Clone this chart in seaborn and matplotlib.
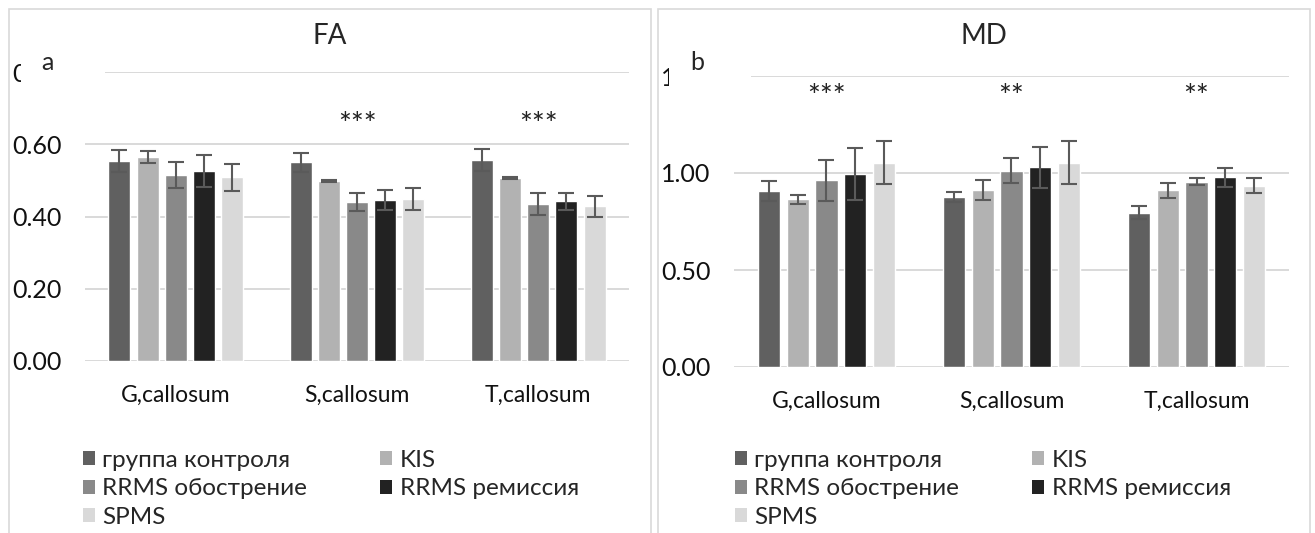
"""FA / MD bar chart of corpus callosum regions by patient group."""

import matplotlib

matplotlib.use("Agg")
import matplotlib.pyplot as plt
import numpy as np
import pandas as pd
import seaborn as sns
from matplotlib.patches import Patch, Rectangle

regions = ["G,callosum", "S,callosum", "T,callosum"]
groups = ["группа контроля", "KIS", "RRMS обострение", "RRMS ремиссия", "SPMS"]
colors = ["#606060", "#b2b2b2", "#898989", "#222222", "#d9d9d9"]

# values per group, one entry per region (G, S, T)
fa_mean = {
    "группа контроля": [0.554, 0.550, 0.557],
    "KIS": [0.565, 0.498, 0.506],
    "RRMS обострение": [0.515, 0.440, 0.435],
    "RRMS ремиссия": [0.526, 0.446, 0.442],
    "SPMS": [0.508, 0.448, 0.428],
}
fa_err = {
    "группа контроля": [0.030, 0.027, 0.031],
    "KIS": [0.017, 0.002, 0.002],
    "RRMS обострение": [0.035, 0.024, 0.030],
    "RRMS ремиссия": [0.045, 0.028, 0.023],
    "SPMS": [0.037, 0.031, 0.029],
}
md_mean = {
    "группа контроля": [0.906, 0.874, 0.795],
    "KIS": [0.864, 0.913, 0.910],
    "RRMS обострение": [0.963, 1.012, 0.956],
    "RRMS ремиссия": [0.994, 1.029, 0.979],
    "SPMS": [1.053, 1.053, 0.934],
}
md_err = {
    "группа контроля": [0.052, 0.026, 0.033],
    "KIS": [0.022, 0.050, 0.040],
    "RRMS обострение": [0.105, 0.065, 0.018],
    "RRMS ремиссия": [0.133, 0.104, 0.049],
    "SPMS": [0.110, 0.110, 0.038],
}
fa_stars = ["", "***", "***"]
md_stars = ["***", "**", "**"]
fa_ticks = [0.0, 0.2, 0.4, 0.6, 0.8]
md_ticks = [0.0, 0.5, 1.0, 1.5]

W, H = 1315, 533
FONT = ["Lato", "DejaVu Sans"]


def long_frame(means: dict) -> pd.DataFrame:
    rows = []
    for g in groups:
        for r, v in zip(regions, means[g]):
            rows.append({"region": r, "group": g, "value": v})
    return pd.DataFrame(rows)


def px_box(x0, y0, x1, y1):
    # pixel box (top-left origin) -> figure fraction rect
    return [x0 / W, 1 - y1 / H, (x1 - x0) / W, (y1 - y0) / H]


def draw_panel(ax, means, errs, stars, ticks, star_px):
    df = long_frame(means)
    sns.barplot(
        data=df, x="region", y="value", hue="group", hue_order=groups,
        palette=colors, width=0.775, gap=0.22, errorbar=None,
        legend=False, ax=ax, saturation=1,
    )
    for cont, g in zip(ax.containers, groups):
        xs = [p.get_x() + p.get_width() / 2 for p in cont]
        ys = [p.get_height() for p in cont]
        ax.errorbar(xs, ys, yerr=errs[g], fmt="none", ecolor="#5a5a5a",
                    elinewidth=1.5, capsize=5.5, capthick=1.5, zorder=3)
    # significance marks, placed by their pixel row
    for i, s in enumerate(stars):
        if s:
            ax.text(i, 1 - star_px, s, ha="center", va="center", fontsize=22,
                    family=FONT, color="#222222",
                    transform=ax.get_xaxis_transform())
    ax.set_xlim(-0.5, 2.5)
    ax.set_ylim(ticks[0], ticks[-1])
    ax.set_yticks(ticks)
    ax.set_yticklabels([f"{t:.2f}" for t in ticks])
    ax.grid(axis="y", color="#d9d9d9", linewidth=1.4)
    ax.grid(axis="x", visible=False)
    ax.set_axisbelow(True)
    for sp in ax.spines.values():
        sp.set_visible(False)
    ax.tick_params(axis="y", length=0, labelsize=18, colors="#111111", pad=17)
    ax.tick_params(axis="x", length=0, labelsize=16.5, colors="#111111", pad=17)
    for lab in ax.get_xticklabels() + ax.get_yticklabels():
        lab.set_family(FONT)
    ax.set_xlabel("")
    ax.set_ylabel("")


sns.set_theme(style="white")
plt.rcParams["font.family"] = FONT

fig = plt.figure(figsize=(W / 100, H / 100), dpi=100)
ax_fa = fig.add_axes(px_box(85, 72, 629, 361))
ax_md = fig.add_axes(px_box(734, 76, 1289, 367))

# star rows as fraction of the axes height from the top
draw_panel(ax_fa, fa_mean, fa_err, fa_stars, fa_ticks, (125 - 72) / (361 - 72))
draw_panel(ax_md, md_mean, md_err, md_stars, md_ticks, (97 - 76) / (367 - 76))

# panel frames
for x0, x1 in [(9, 651), (658, 1310)]:
    fig.add_artist(Rectangle((x0 / W, -0.05), (x1 - x0) / W, 1 - 9 / H + 0.05,
                             transform=fig.transFigure, fill=False,
                             edgecolor="#d9d9d9", linewidth=1.2))

# titles
fig.text(330 / W, 1 - 36 / H, "FA", ha="center", va="center", fontsize=20, family=FONT)
fig.text(984 / W, 1 - 36 / H, "MD", ha="center", va="center", fontsize=20, family=FONT)

# panel letters drawn over the top tick label
for (x0, y0, x1, y1), (tx, ty), letter in [
    ((21, 48, 105, 92), (47, 62), "a"),
    ((669, 48, 751, 95), (697, 62), "b"),
]:
    fig.add_artist(Rectangle((x0 / W, 1 - y1 / H), (x1 - x0) / W, (y1 - y0) / H,
                             transform=fig.transFigure, facecolor="white",
                             edgecolor="none", zorder=5))
    fig.text(tx / W, 1 - ty / H, letter, ha="center", va="center", fontsize=18,
             family=FONT, zorder=6)

# legends (row-major order like the original)
order = [0, 2, 4, 1, 3]
handles = [Patch(facecolor=colors[i], edgecolor="none") for i in order]
labels = [groups[i] for i in order]
for lx in [83, 735]:
    fig.legend(handles, labels, ncol=2, loc="upper left",
               bbox_to_anchor=(lx / W, 1 - 450 / H), frameon=False,
               borderpad=0, borderaxespad=0,
               handlelength=0.5, handleheight=0.5, handletextpad=0.3,
               labelspacing=0.3, columnspacing=3.0,
               prop={"family": FONT, "size": 17.5})

fig.savefig("out.png", dpi=100)
